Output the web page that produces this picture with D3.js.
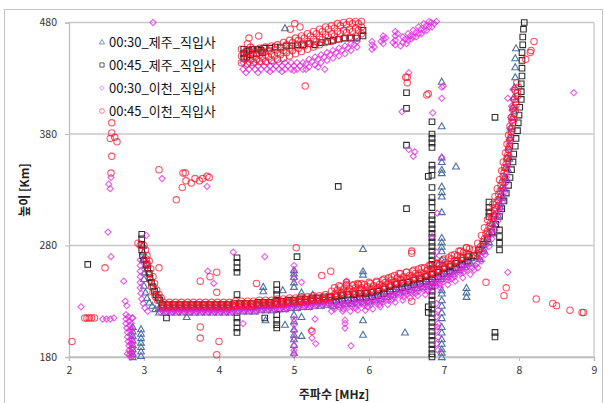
<!DOCTYPE html>
<html>
<head>
<meta charset="utf-8">
<script src="https://cdn.jsdelivr.net/npm/d3@7"></script>
<style>
  body { margin: 0; background: #fff; }
  text { font-family: "Noto Sans CJK KR", "Noto Sans", sans-serif; }
</style>
</head>
<body>
<div id="chart"></div>
<script>
const xTicks = [2, 3, 4, 5, 6, 7, 8, 9];
const yTicks = [180, 280, 380, 480];
const seriesNames = ['00:30_제주_직입사', '00:45_제주_직입사', '00:30_이천_직입사', '00:45_이천_직입사'];

// [frequency MHz, height km]
const jeju0030 = [
  [2.99,280],[2.99,274],[2.99,268],[3.02,262],[3.01,256],[3.0,250],[3.0,244],[3.02,238],[3.04,233],[3.07,229],[3.11,226],[3.15,223],
  [2.85,207],[2.85,203],[2.85,199],[2.85,195],[2.85,191],[2.85,187],[2.85,183],[2.85,180],
  [2.96,205],[2.96,201],[2.96,197],[2.96,193],[2.96,189],[2.96,185],[2.96,181],
  [3.20,220],[3.20,224],[3.28,220],[3.28,224],[3.36,220],[3.36,224],[3.44,220],[3.44,224],[3.52,220],[3.52,224],
  [3.60,220],[3.60,224],[3.68,220],[3.68,224],[3.76,220],[3.76,224],[3.84,220],[3.84,224],[3.92,220],[3.92,224],
  [4.00,220],[4.00,224],[4.08,220],[4.08,224],[4.16,220],[4.16,224],[4.24,221],[4.24,225],[4.32,221],[4.32,225],
  [4.40,221],[4.40,225],[4.48,221],[4.48,225],[4.56,222],[4.56,226],[4.64,222],[4.64,226],[4.72,222],[4.72,226],
  [4.80,223],[4.80,227],[4.88,223],[4.88,227],[4.96,224],[4.96,228],[5.04,224],[5.04,228],[5.12,225],[5.12,229],
  [5.20,225],[5.20,229],[5.28,226],[5.28,230],[5.36,226],[5.36,230],[5.44,227],[5.44,231],[5.52,226],[5.52,231],
  [5.60,227],[5.60,232],[5.68,228],[5.68,233],[5.76,228],[5.76,233],[5.84,229],[5.84,234],[5.92,229],[5.92,234],
  [6.00,230],[6.00,235],[6.08,231],[6.08,236],[6.16,232],[6.16,237],[6.24,234],[6.24,239],[6.32,236],[6.32,241],
  [6.40,238],[6.40,243],[6.48,239],[6.48,244],[6.56,240],[6.56,245],[6.64,242],[6.64,247],[6.72,243],[6.72,248],
  [6.80,245],[6.80,250],[6.88,247],[6.88,252],[6.96,250],[6.96,255],[7.04,252],[7.04,257],[7.12,255],[7.12,260],
  [7.20,258],[7.20,263],[7.28,261],[7.28,266],[7.36,264],[7.36,269],
  [7.44,270],[7.50,277],[7.55,284],[7.60,292],[7.64,300],[7.68,308],[7.71,316],[7.74,324],[7.77,332],[7.80,341],
  [7.82,350],[7.84,359],[7.86,368],[7.88,377],[7.89,386],[7.91,395],[7.92,404],[7.93,413],[7.94,422],[7.95,431],
  [7.95,440],[7.95,448],[7.96,457],
  [7.48,268],[7.54,275],[7.60,283],[7.65,291],[7.69,299],[7.72,307],[7.75,315],[7.78,323],[7.80,331],[7.83,340],
  [7.85,349],[7.87,358],
  [5.0,258],[5.0,255],[5.0,252],[5.0,247],[5.0,243],[5.0,218],[5.0,212],[5.0,205],[5.0,200],[5.0,196],[5.0,191],[5.0,184],
  [4.59,243],[4.59,239],[4.62,213],[4.85,240],[4.88,209],[5.1,238],[5.1,216],[5.1,199],[5.25,236],[3.57,216],
  [5.92,277],[5.92,257],[5.92,254],[5.92,213],[5.92,200],[6.48,202],[7.3,242],[7.3,238],[7.3,234],[7.16,351],
  [4.88,475],[6.97,427],
  [6.97,387],[6.97,359],[6.97,355],[6.97,348],[6.97,345],[6.97,333],[6.97,328],[6.97,324],[6.97,310],[6.97,287],
  [6.97,283],[6.97,279],[6.97,275],[6.97,267],[6.97,240],[6.97,237],[6.97,231],[6.97,226],[6.97,220],[6.97,215],
  [6.97,207],[6.97,202],[6.97,196],[6.97,192],[6.97,187],[6.97,184],[6.97,180]
];

const jeju0045 = [
  [2.97,290],[2.97,286],[2.97,281],[2.97,276],[2.98,271],[3.0,267],[3.03,263],[3.05,259],[3.07,255],[3.08,251],
  [3.1,247],[3.12,243],[3.14,239],[3.16,236],[3.19,233],[3.21,231],
  [3.24,224],[3.24,227],[3.32,224],[3.32,227],[3.40,224],[3.40,227],[3.48,224],[3.48,227],[3.56,224],[3.56,227],
  [3.64,224],[3.64,227],[3.72,224],[3.72,227],[3.80,224],[3.80,227],[3.88,224],[3.88,227],[3.96,224],[3.96,227],
  [4.04,224],[4.04,227],[4.12,224],[4.12,227],[4.20,225],[4.20,228],[4.28,225],[4.28,228],[4.36,225],[4.36,228],
  [4.44,225],[4.44,228],[4.52,226],[4.52,229],[4.60,226],[4.60,229],[4.68,226],[4.68,229],[4.76,227],[4.76,230],
  [4.84,227],[4.84,230],[4.92,228],[4.92,231],[5.00,228],[5.00,231],[5.08,229],[5.08,232],[5.16,229],[5.16,232],
  [5.24,230],[5.24,233],[5.32,230],[5.32,233],[5.40,231],[5.40,234],[5.48,231],[5.48,234],[5.56,230],[5.56,234],
  [5.64,231],[5.64,235],[5.72,231],[5.72,236],[5.80,232],[5.80,236],[5.88,233],[5.88,237],[5.96,233],[5.96,237],
  [6.04,234],[6.04,238],[6.12,235],[6.12,239],[6.20,237],[6.20,241],[6.28,239],[6.28,243],[6.36,241],[6.36,245],
  [6.44,242],[6.44,246],[6.52,243],[6.52,247],[6.60,245],[6.60,249],[6.68,246],[6.68,250],[6.76,248],[6.76,252],
  [6.84,250],[6.84,254],[6.92,252],[6.92,256],[7.00,255],[7.00,259],[7.08,257],[7.08,261],[7.16,260],[7.16,264],
  [7.24,263],[7.24,267],[7.32,266],[7.32,270],
  [7.40,271],[7.46,276],[7.52,281],[7.58,286],[7.64,292],[7.69,299],[7.74,276],[7.74,282],[7.74,288],[7.74,294],
  [7.74,306],[7.77,313],[7.80,320],[7.83,327],[7.86,334],[7.88,341],[7.90,348],[7.92,355],[7.93,362],[7.95,369],
  [7.96,376],[7.98,383],[7.99,390],[8.00,397],[8.01,404],[8.03,411],[8.03,418],[8.03,425],[8.04,432],[8.04,439],
  [8.04,446],[8.04,453],[8.05,460],[8.05,467],[8.06,474],[8.07,480],
  [7.6,306],[7.6,310],[7.6,314],[7.6,319],[7.68,395],[7.68,202],[7.68,198],
  [2.25,263],[3.3,215],[4.24,269],[4.24,265],[4.24,260],[4.24,256],[4.24,236],[4.24,215],[4.24,211],[4.24,206],[4.24,202],
  [4.77,245],[4.77,240],[4.77,236],[4.77,218],[4.77,213],[4.77,209],[4.77,206],[4.61,215],[5.04,270],[5.59,333],
  [6.84,391],[6.84,380],[6.84,376],[6.84,372],[6.84,368],[6.84,352],[6.84,348],[6.84,343],[6.84,332],[6.84,323],
  [6.84,319],[6.84,314],[6.84,307],[6.84,303],[6.84,299],[6.84,295],[6.84,291],[6.84,287],[6.84,283],[6.84,279],
  [6.84,275],[6.84,271],[6.84,267],[6.84,263],[6.84,259],[6.84,247],[6.84,243],[6.84,239],[6.84,235],[6.84,231],
  [6.84,227],[6.84,223],[6.84,219],[6.84,215],[6.84,211],[6.84,207],[6.84,203],[6.84,199],[6.84,195],[6.84,191],
  [6.84,187],[6.84,183],[6.84,180],
  [6.79,342],[6.79,225],[6.79,220],[6.5,417],[6.5,403],[6.5,370],[6.5,313],
  [4.33,456],[4.33,452],[4.33,448],[4.37,449],[4.37,454],[4.4,455],[4.42,451],[4.45,456],[4.5,452],[4.51,456],
  [4.56,455],[4.58,453],[4.6,457],[4.68,457],[4.75,458],[4.82,458],[4.9,459],[4.97,459],[5.05,460],[5.12,460],
  [5.2,461],[5.28,460],[5.36,462],[5.45,463],[5.52,464],[5.6,465],[5.68,466],[5.76,466],[5.84,466],[5.92,468],
  [5.92,473]
];

const icheon0030 = [
  [2.95,267],[2.95,262],[2.95,257],[2.95,252],[2.95,247],[2.95,242],[2.96,237],[2.97,232],[2.99,228],[3.01,224],
  [3.03,289],[3.05,221],
  [2.76,218],[2.76,214],[2.76,210],[2.77,206],[2.78,202],[2.78,198],[2.79,194],[2.8,190],[2.8,186],[2.81,182],
  [2.82,180],[2.84,215],[2.83,210],[2.84,205],[2.84,200],[2.84,196],[2.84,192],[2.85,188],[2.84,184],[2.85,181],
  [2.79,216],[2.8,212],[2.81,208],[2.81,204],[2.82,200],[2.82,196],[2.82,192],[2.83,188],[2.82,184],[2.78,183],
  [3.22,220],[3.22,223],[3.30,220],[3.30,223],[3.38,220],[3.38,223],[3.46,220],[3.46,223],[3.54,220],[3.54,223],
  [3.62,220],[3.62,223],[3.70,220],[3.70,223],[3.78,220],[3.78,223],[3.86,220],[3.86,223],[3.94,220],[3.94,223],
  [4.02,220],[4.02,223],[4.10,220],[4.10,223],[4.18,220],[4.18,223],[4.26,221],[4.26,224],[4.34,221],[4.34,224],
  [4.42,221],[4.42,224],[4.50,221],[4.50,224],[4.58,222],[4.58,225],[4.66,222],[4.66,225],[4.74,222],[4.74,225],
  [4.82,223],[4.82,226],[4.90,223],[4.90,226],[4.98,224],[4.98,227],[5.06,224],[5.06,227],[5.14,225],[5.14,228],
  [5.22,225],[5.22,228],[5.30,226],[5.30,229],[5.38,226],[5.38,229],[5.46,227],[5.46,230],[5.54,223],[5.54,228],
  [5.62,224],[5.62,229],[5.70,225],[5.70,230],[5.78,225],[5.78,230],[5.86,226],[5.86,231],[5.94,226],[5.94,231],
  [6.02,227],[6.02,232],[6.10,228],[6.10,233],[6.18,229],[6.18,234],[6.26,231],[6.26,236],[6.34,233],[6.34,238],
  [6.42,235],[6.42,240],[6.50,236],[6.50,241],[6.58,237],[6.58,242],[6.66,239],[6.66,244],[6.74,240],[6.74,245],
  [6.82,242],[6.82,247],[6.90,244],[6.90,249],[6.98,247],[6.98,252],[7.06,249],[7.06,254],[7.14,252],[7.14,257],
  [7.22,255],[7.22,260],[7.30,258],[7.30,263],[7.38,260],
  [3.26,222],[3.34,222],[3.42,222],[3.50,222],[3.58,222],[3.66,222],[3.74,222],[3.82,222],[3.90,222],[3.98,222],
  [4.06,222],[4.14,222],[4.22,223],[4.30,223],[4.38,223],[4.46,223],[4.54,224],[4.62,224],[4.70,224],[4.78,225],
  [4.86,225],[4.94,226],[5.02,226],[5.10,227],[5.18,227],[5.26,228],[5.34,228],[5.42,229],[5.50,226],[5.58,227],
  [5.66,228],[5.74,228],[5.82,229],[5.90,229],[5.98,230],[6.06,231],[6.14,232],[6.22,234],[6.30,236],[6.38,238],
  [6.46,239],[6.54,240],[6.62,242],[6.70,243],[6.78,245],[6.86,247],[6.94,250],[7.02,252],[7.10,255],[7.18,258],
  [7.26,261],[7.34,264],
  [3.30,221],[3.38,221],[3.46,221],[3.54,221],[3.62,221],[3.70,221],[3.78,221],[3.86,221],[3.94,221],[4.02,221],
  [4.10,221],[4.18,221],[4.26,222],[4.34,222],[4.42,222],[4.50,222],[4.58,223],[4.66,223],[4.74,223],[4.82,224],
  [4.90,224],[4.98,225],[5.06,225],[5.14,226],[5.22,226],[5.30,227],[5.38,227],[5.46,228],[5.54,225],[5.62,226],
  [5.70,227],[5.78,227],[5.86,228],[5.94,228],[6.02,229],[6.10,230],[6.18,231],[6.26,233],[6.34,235],[6.42,237],
  [6.50,238],[6.58,239],[6.66,241],[6.74,242],[6.82,244],[6.90,246],[6.98,249],[7.06,251],[7.14,254],[7.22,257],
  [7.30,260],
  [5.50,221],[5.66,223],[5.82,224],[5.98,225],[6.14,227],[6.30,231],[6.46,234],[6.62,237],[6.78,240],[6.94,245],
  [7.10,250],[7.26,256],
  [5.65,221],[5.75,221],[5.85,222],[5.95,222],[6.05,223],[6.15,225],[6.25,227],[6.35,229],[6.45,231],[6.55,233],
  [6.65,235],[6.75,236],[6.85,239],[6.95,242],[7.05,245],[7.15,248],[7.25,251],[7.35,254],
  [7.42,262],[7.47,268],[7.52,274],[7.57,281],[7.62,289],[7.66,297],[7.70,305],[7.74,313],[7.77,322],[7.80,331],
  [7.83,341],[7.85,351],[7.87,361],[7.88,371],[7.89,381],[7.90,391],[7.91,401],[7.92,411],[7.92,420],
  [7.45,260],[7.50,266],[7.55,272],[7.60,279],[7.64,286],[7.68,294],[7.72,302],[7.75,310],[7.78,319],[7.81,328],[7.84,337],
  [7.40,258],[7.44,264],[7.49,270],[7.54,277],[7.59,285],[7.63,293],[7.67,301],[7.71,309],[7.75,317],[7.78,326],
  [7.81,335],[7.83,345],[7.85,355],[7.86,365],[7.87,375],[7.88,385],[7.89,395],[7.90,405],
  [4.32,438],[4.32,444],[4.40,438],[4.40,444],[4.48,438],[4.48,444],[4.56,438],[4.56,444],[4.64,438],[4.64,444],
  [4.72,438],[4.72,444],[4.80,438],[4.80,444],[4.88,438],[4.88,444],[4.96,438],[4.96,444],[5.04,438],[5.04,444],
  [5.12,438],[5.12,444],[5.20,440],[5.20,447],[5.28,442],[5.28,449],[5.36,444],[5.36,451],[5.44,446],[5.44,453],
  [5.52,448],[5.52,455],[5.60,450],[5.60,457],[5.68,452],[5.68,459],[5.76,455],[5.76,461],[5.84,458],[5.84,463],
  [4.36,441],[4.44,441],[4.52,441],[4.60,441],[4.68,441],[4.76,441],[4.84,441],[4.92,441],[5.00,441],[5.08,441],
  [5.16,443],[5.24,445],[5.32,447],[5.40,449],[5.48,451],[5.56,453],[5.64,455],[5.72,457],[5.80,460],
  [4.36,435],[4.52,435],[4.68,436],[4.84,436],[5.00,437],[5.16,438],[5.32,440],
  [6.04,456],[6.04,460],[6.04,463],[6.19,461],[6.19,465],[6.19,468],[6.35,460],[6.35,464],[6.35,468],[6.35,472],
  [6.45,462],[6.45,467],[6.52,464],[6.52,470],[6.59,467],[6.59,473],[6.66,470],[6.66,476],[6.73,473],[6.73,479],
  [6.80,476],[6.80,481],[6.87,479],[6.90,481],
  [6.07,458],[6.16,463],[6.22,466],[6.32,462],[6.38,470],[6.48,465],[6.55,468],[6.62,471],[6.69,474],[6.76,477],
  [6.83,480],[6.42,459],[6.50,461],[6.56,465],[6.63,467],[6.70,470],[6.77,473],[6.84,476],
  [3.12,480],[2.56,341],[2.53,335],[2.55,331],[2.52,292],[2.56,270],[2.16,225],[2.45,214],[2.5,214],[2.55,214],
  [2.6,215],[2.73,248],[2.75,230],[2.77,226],[2.85,215],[3.24,340],[3.84,333],[4.19,274],[3.85,257],[3.93,246],
  [4.32,210],[4.61,270],[5.1,247],[5.28,214],[5.23,204],[5.24,197],[5.29,192],[5.76,190],[5.7,248],[5.68,213],
  [5.68,210],[5.68,206],[5.0,262],[5.0,257],[5.0,250],[5.0,214],[5.0,209],[5.0,203],[5.0,197],[5.0,190],[5.0,186],
  [5.0,182],[6.53,435],[6.97,422],[6.97,412],[6.85,399],[6.59,360],[6.53,366],[6.61,364],[6.97,359],[6.91,309],
  [6.84,288],[8.73,417],[7.85,412],[6.99,423],[7.85,256],[6.44,400],[5.41,438],[6.91,207],
  [6.9,274],[6.9,268],[6.92,262],[6.9,228],[6.92,222],[6.9,216],[6.92,210],[6.9,204],[6.92,198],[6.9,192],[6.92,186]
];

const icheon0045 = [
  [2.92,282],[2.95,280],[3.02,276],[3.03,268],[3.05,262],[3.06,255],[3.08,249],[3.1,243],[3.12,238],[3.15,234],
  [3.18,231],[3.04,271],[3.04,264],
  [3.0,280],[3.07,266],[3.09,259],[3.12,252],[3.14,246],[3.17,240],[3.2,236],[3.23,233],
  [3.26,225],[3.26,229],[3.34,225],[3.34,229],[3.42,225],[3.42,229],[3.50,225],[3.50,229],[3.58,225],[3.58,229],
  [3.66,225],[3.66,229],[3.74,225],[3.74,229],[3.82,225],[3.82,229],[3.90,225],[3.90,229],[3.98,225],[3.98,229],
  [4.06,225],[4.06,229],[4.14,225],[4.14,229],[4.22,226],[4.22,230],[4.30,226],[4.30,230],[4.38,226],[4.38,230],
  [4.46,226],[4.46,230],[4.54,227],[4.54,231],[4.62,227],[4.62,231],[4.70,227],[4.70,231],[4.78,228],[4.78,232],
  [4.86,228],[4.86,232],[4.94,229],[4.94,233],[5.02,229],[5.02,233],[5.10,230],[5.10,234],[5.18,230],[5.18,234],
  [5.26,231],[5.26,235],[5.34,231],[5.34,235],[5.42,232],[5.42,236],[5.50,234],[5.50,239],[5.58,235],[5.58,240],
  [5.66,236],[5.66,241],[5.74,236],[5.74,241],[5.82,237],[5.82,242],[5.90,237],[5.90,242],[5.98,238],[5.98,243],
  [6.06,239],[6.06,244],[6.14,240],[6.14,245],[6.22,242],[6.22,247],[6.30,244],[6.30,249],[6.38,246],[6.38,251],
  [6.46,247],[6.46,252],[6.54,248],[6.54,253],[6.62,250],[6.62,255],[6.70,251],[6.70,256],[6.78,253],[6.78,258],
  [6.86,255],[6.86,260],[6.94,258],[6.94,263],[7.02,260],[7.02,265],[7.10,263],[7.10,268],[7.18,266],[7.18,271],
  [7.26,269],[7.26,274],[7.34,272],[7.34,277],
  [3.30,227],[3.38,227],[3.46,227],[3.54,227],[3.62,227],[3.70,227],[3.78,227],[3.86,227],[3.94,227],[4.02,227],
  [4.10,227],[4.18,227],[4.26,228],[4.34,228],[4.42,228],[4.50,228],[4.58,229],[4.66,229],[4.74,229],[4.82,230],
  [4.90,230],[4.98,231],[5.06,231],[5.14,232],[5.22,232],[5.30,233],[5.38,233],[5.46,234],
  [5.54,236],[5.54,242],[5.62,237],[5.62,243],[5.70,238],[5.70,244],[5.78,238],[5.78,244],[5.86,239],[5.86,245],
  [5.94,239],[5.94,245],[6.02,240],[6.02,246],[6.10,241],[6.10,247],[6.18,243],[6.18,249],[6.26,245],[6.26,251],
  [6.34,247],[6.34,253],[6.42,249],[6.42,255],[6.50,250],[6.50,256],[6.58,251],[6.58,257],[6.66,253],[6.66,259],
  [6.74,254],[6.74,260],[6.82,256],[6.82,262],[6.90,258],[6.90,264],[6.98,261],[6.98,267],[7.06,263],[7.06,269],
  [7.14,266],[7.14,272],[7.22,269],[7.22,275],[7.30,272],[7.30,278],
  [3.24,226],[3.32,226],[3.40,226],[3.48,226],[3.56,226],[3.64,226],[3.72,226],[3.80,226],[3.88,226],[3.96,226],
  [4.04,226],[4.12,226],[4.20,226],[4.28,227],[4.36,227],[4.44,227],[4.52,227],[4.60,228],[4.68,228],[4.76,228],
  [4.84,229],[4.92,229],[5.00,230],[5.08,230],[5.16,231],[5.24,231],[5.32,232],[5.40,232],[5.48,233],[5.56,237],
  [5.64,238],[5.72,239],[5.80,239],[5.88,240],[5.96,240],[6.04,241],[6.12,242],[6.20,243],[6.28,245],[6.36,247],
  [6.44,249],[6.52,250],[6.60,251],[6.68,253],[6.76,254],[6.84,256],[6.92,258],[7.00,261],[7.08,263],[7.16,266],
  [7.24,269],[7.32,272],
  [5.60,244],[5.70,245],[5.80,245],[5.90,246],[6.00,247],[6.10,248],[6.20,250],[6.30,252],[6.40,255],[6.50,256],
  [6.60,258],[6.70,260],[6.80,262],[6.90,264],[7.00,268],[7.10,271],[7.20,275],[7.30,278],
  [7.40,276],[7.45,282],[7.50,289],[7.54,296],[7.58,303],[7.62,310],[7.65,317],[7.68,324],[7.71,331],[7.74,339],
  [7.77,347],[7.79,355],[7.82,363],[7.84,371],[7.86,379],[7.88,387],[7.90,395],[7.92,403],[7.94,411],[7.95,419],
  [7.97,426],
  [7.44,273],[7.49,279],[7.54,286],[7.58,293],[7.62,300],[7.66,307],[7.69,314],[7.72,321],[7.75,329],[7.78,337],
  [7.80,345],[7.83,353],[7.85,361],[7.87,369],[7.89,377],[7.91,385],[7.93,393],[7.95,401],[7.96,409],[7.98,417],
  [7.42,270],[7.47,276],[7.52,283],[7.56,290],[7.60,297],[7.64,304],[7.67,311],[7.70,318],[7.73,326],[7.76,334],
  [7.79,342],[7.81,350],[7.84,358],[7.86,366],[7.88,374],[7.90,382],[7.92,390],[7.94,398],[7.96,406],[7.98,414],
  [7.99,422],
  [4.30,444],[4.30,450],[4.30,456],[4.38,443],[4.38,449],[4.38,455],[4.38,461],[4.46,444],[4.46,450],[4.46,456],
  [4.54,445],[4.54,451],[4.54,457],[4.62,445],[4.62,451],[4.62,458],[4.70,446],[4.70,452],[4.70,459],[4.78,447],
  [4.78,453],[4.78,460],[4.86,448],[4.86,455],[4.86,462],[4.94,450],[4.94,457],[4.94,464],[5.02,452],[5.02,459],
  [5.02,466],[5.10,454],[5.10,461],[5.10,468],[5.18,456],[5.18,463],[5.18,470],[5.26,458],[5.26,465],[5.26,472],
  [5.34,460],[5.34,467],[5.34,474],[5.42,462],[5.42,469],[5.42,476],[5.50,463],[5.50,470],[5.50,477],[5.58,465],
  [5.58,472],[5.58,479],[5.66,466],[5.66,473],[5.66,480],[5.74,467],[5.74,474],[5.74,481],[5.82,468],[5.82,475],
  [5.82,481],[5.90,470],[5.90,476],[5.90,481],
  [4.34,447],[4.34,453],[4.42,447],[4.42,453],[4.42,458],[4.50,447],[4.50,453],[4.58,448],[4.58,454],[4.66,449],
  [4.66,455],[4.74,450],[4.74,456],[4.82,451],[4.82,457],[4.90,453],[4.90,460],[4.98,455],[4.98,462],[5.06,457],
  [5.06,464],[5.14,459],[5.14,466],[5.22,461],[5.22,468],[5.30,463],[5.30,470],[5.38,465],[5.38,472],[5.46,467],
  [5.46,474],[5.54,468],[5.54,475],[5.62,470],[5.62,477],[5.70,471],[5.70,478],[5.78,472],[5.78,479],[5.86,473],
  [5.86,479],
  [4.4,466],[4.53,468],[4.95,474],[5.01,479],[5.08,476],[5.15,423],[6.51,431],[6.51,426],[6.77,415],[6.49,431],
  [2.57,390],[2.57,381],[2.55,376],[2.61,377],[2.64,373],[2.57,360],[2.56,345],[3.2,348],[3.52,345],[3.55,345],
  [3.56,338],[3.63,336],[3.68,340],[3.74,338],[3.78,340],[3.84,342],[3.87,341],[3.51,332],[3.43,321],
  [2.04,194],[2.21,215],[2.24,215],[2.27,215],[2.3,215],[2.34,215],[2.48,260],[3.2,260],[3.75,248],[3.88,252],
  [3.97,256],[3.97,238],[3.75,207],[3.75,197],[4.0,194],[3.97,182],[4.5,246],[5.03,278],[5.37,253],[5.49,257],
  [5.85,246],[6.57,273],[6.57,275],[5.24,203],[5.7,247],[6.79,416],[6.57,230],
  [7.56,247],[7.83,242],[7.8,235],[8.23,232],[8.45,228],[8.5,226],[8.68,222],[8.84,220],[8.86,220],
  [8.2,463],[8.15,453],[8.16,455],[8.09,447]
];

const width = 605;
const height = 403;
const plot = { left: 69, right: 594, top: 22.5, bottom: 357 };

const svg = d3.select('#chart')
  .append('svg')
  .attr('width', width)
  .attr('height', height);

const x = d3.scaleLinear().domain([2, 9]).range([plot.left, plot.right]);
const y = d3.scaleLinear().domain([180, 480]).range([plot.bottom, plot.top]);

// outer chart border
svg.append('rect')
  .attr('x', 4.5).attr('y', 9.5)
  .attr('width', 598).attr('height', 400)
  .attr('fill', 'none').attr('stroke', '#c4c4c4');

// gridlines
svg.append('g')
  .selectAll('line')
  .data(yTicks)
  .join('line')
  .attr('x1', plot.left).attr('x2', plot.right)
  .attr('y1', d => y(d)).attr('y2', d => y(d))
  .attr('stroke', '#c8c8c8').attr('stroke-width', 1.3);

svg.append('line')
  .attr('x1', plot.right).attr('x2', plot.right)
  .attr('y1', plot.top).attr('y2', plot.bottom)
  .attr('stroke', '#c8c8c8').attr('stroke-width', 1.3);

function xAxis(g) {
  g.attr('transform', `translate(0,${plot.bottom})`)
    .call(d3.axisBottom(x).tickValues(xTicks).tickSize(4).tickFormat(d3.format('d')))
    .call(g => g.select('.domain').attr('stroke', '#bdbdbd').attr('stroke-width', 1.3))
    .call(g => g.selectAll('.tick line').attr('stroke', '#bdbdbd'))
    .call(g => g.selectAll('.tick text')
      .attr('font-family', 'Liberation Sans, sans-serif')
      .attr('font-size', '10.5px').attr('fill', '#333').attr('dy', '0.95em'));
}

function yAxis(g) {
  g.attr('transform', `translate(${plot.left},0)`)
    .call(d3.axisLeft(y).tickValues(yTicks).tickSize(4))
    .call(g => g.select('.domain').attr('stroke', '#bdbdbd').attr('stroke-width', 1.3))
    .call(g => g.selectAll('.tick line').attr('stroke', '#bdbdbd'))
    .call(g => g.selectAll('.tick text')
      .attr('font-family', 'Liberation Sans, sans-serif')
      .attr('font-size', '10.5px').attr('fill', '#333').attr('x', -12));
}

svg.append('g').call(xAxis);
svg.append('g').call(yAxis);

svg.append('text')
  .attr('x', 334).attr('y', 399)
  .attr('text-anchor', 'middle')
  .attr('font-size', '12px').attr('font-weight', 'bold').attr('fill', '#222')
  .text('주파수 [MHz]');

svg.append('text')
  .attr('transform', 'translate(29,190) rotate(-90)')
  .attr('text-anchor', 'middle')
  .attr('font-size', '12px').attr('font-weight', 'bold').attr('fill', '#222')
  .text('높이 [Km]');

const shapes = [
  { data: jeju0030, path: 'M0,-3.4L3.4,2.6L-3.4,2.6Z', stroke: '#46699c', opacity: 0.95 },
  { data: jeju0045, path: 'M-2.8,-2.8H2.8V2.8H-2.8Z', stroke: '#262626', opacity: 0.95 },
  { data: icheon0030, path: 'M0,-3.1L3.1,0L0,3.1L-3.1,0Z', stroke: '#e028e0', opacity: 0.75 },
  { data: icheon0045, path: 'M-3.2,0A3.2,3.2 0 1,0 3.2,0A3.2,3.2 0 1,0 -3.2,0Z', stroke: '#f5142a', opacity: 0.72 }
];

const marks = svg.append('g');
shapes.forEach(s => {
  marks.append('g')
    .selectAll('path')
    .data(s.data)
    .join('path')
    .attr('transform', d => `translate(${x(d[0])},${y(d[1])})`)
    .attr('d', s.path)
    .attr('fill', 'none')
    .attr('stroke', s.stroke)
    .attr('stroke-opacity', s.opacity)
    .attr('stroke-width', 1.1);
});

// legend
const legend = svg.append('g');
seriesNames.forEach((name, i) => {
  const row = legend.append('g').attr('transform', `translate(102,${42 + i * 23})`);
  row.append('path')
    .attr('d', shapes[i].path)
    .attr('transform', 'scale(0.75)')
    .attr('fill', 'none')
    .attr('stroke', shapes[i].stroke)
    .attr('stroke-opacity', shapes[i].opacity);
  row.append('text')
    .attr('x', 7).attr('y', 0).attr('dy', '0.36em')
    .attr('font-size', '13px').attr('fill', '#111')
    .text(name);
});
</script>
</body>
</html>
